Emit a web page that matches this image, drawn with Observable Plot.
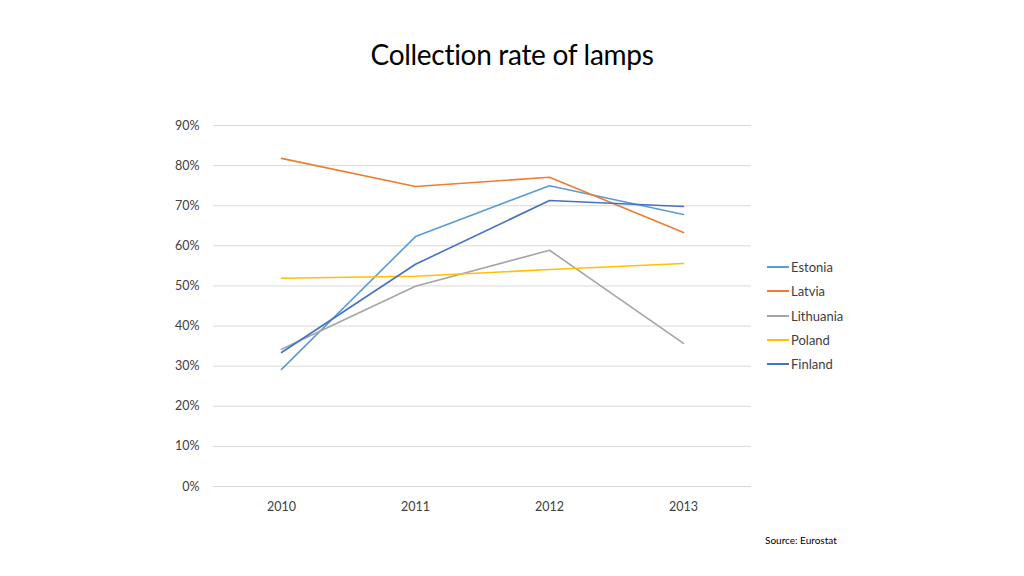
<!DOCTYPE html>
<html>
<head>
<meta charset="utf-8">
<script src="https://cdn.jsdelivr.net/npm/d3@7"></script>
<script src="https://cdn.jsdelivr.net/npm/@observablehq/plot@0.6"></script>
<style>
  body { margin: 0; background: #fff; font-family: Lato, "Open Sans", sans-serif; }
  #wrap { position: relative; width: 1024px; height: 576px; overflow: hidden; }
  #title { position: absolute; left: 0; width: 1024px; top: 37px; text-align: center; font-size: 28px; color: #000; letter-spacing: -0.3px; }
  #chart { position: absolute; left: 0; top: 0; }
  #legend { position: absolute; left: 767px; top: 255px; font-size: 13px; color: #404040; }
  .li { display: flex; align-items: center; height: 24.3px; }
  .sw { width: 22px; height: 0; border-top: 2px solid; margin-right: 2px; }
  #source { position: absolute; left: 765px; top: 534px; font-size: 10px; color: #000; }
</style>
</head>
<body>
<div id="wrap">
  <div id="chart"></div>
  <div id="title">Collection rate of lamps</div>
  <div id="legend"></div>
  <div id="source">Source: Eurostat</div>
</div>
<script>
const years = ["2010", "2011", "2012", "2013"];
const countries = ["Estonia", "Latvia", "Lithuania", "Poland", "Finland"];
const colors = ["#5B9BD5", "#ED7D31", "#A5A5A5", "#FFC000", "#4472C4"];
const estonia = [0.292, 0.623, 0.750, 0.678];
const latvia = [0.818, 0.748, 0.771, 0.633];
const lithuania = [0.342, 0.499, 0.589, 0.357];
const poland = [0.519, 0.524, 0.541, 0.556];
const finland = [0.334, 0.554, 0.713, 0.698];
const yTicks = [0, 0.1, 0.2, 0.3, 0.4, 0.5, 0.6, 0.7, 0.8, 0.9];

const series = [estonia, latvia, lithuania, poland, finland];
const data = [];
countries.forEach((c, i) => years.forEach((y, j) => data.push({country: c, year: y, value: series[i][j]})));

const plot = Plot.plot({
  width: 1024,
  height: 576,
  marginTop: 125,
  marginBottom: 90,
  marginLeft: 213,
  marginRight: 273,
  style: {fontFamily: "Lato, 'Open Sans', sans-serif", fontSize: "12.5px", color: "#404040", background: "transparent"},
  x: {type: "point", domain: years, padding: 0.5, label: null, tickSize: 0, tickPadding: 16},
  y: {domain: [0, 0.9], ticks: yTicks, tickFormat: d3.format(".0%"), label: null, tickSize: 0, tickPadding: 14},
  color: {domain: countries, range: colors},
  marks: [
    Plot.gridY(yTicks, {stroke: "#d9d9d9", strokeOpacity: 1, strokeWidth: 1}),
    Plot.line(data, {x: "year", y: "value", z: "country", stroke: "country", strokeWidth: 1.6})
  ]
});
document.getElementById("chart").appendChild(plot);

const leg = document.getElementById("legend");
countries.forEach((c, i) => {
  const row = document.createElement("div");
  row.className = "li";
  const sw = document.createElement("div");
  sw.className = "sw";
  sw.style.borderColor = colors[i];
  const t = document.createElement("span");
  t.textContent = c;
  row.appendChild(sw); row.appendChild(t);
  leg.appendChild(row);
});
</script>
</body>
</html>
